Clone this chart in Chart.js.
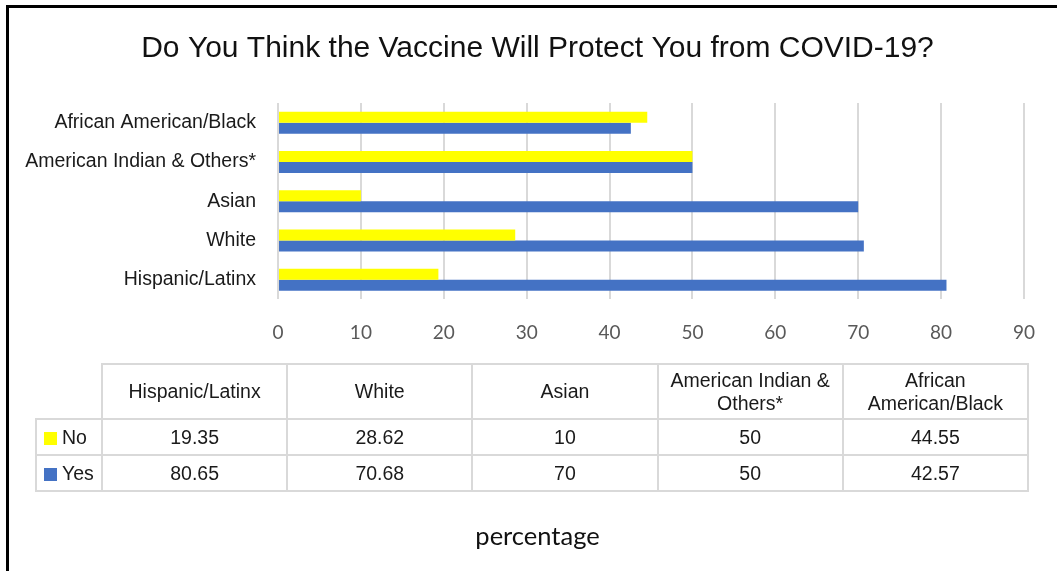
<!DOCTYPE html>
<html>
<head>
<meta charset="utf-8">
<script src="https://cdn.jsdelivr.net/npm/chart.js@4"></script>
<style>
  html, body { margin: 0; padding: 0; background: #fff; }
  #wrap { position: relative; width: 1057px; height: 571px; overflow: hidden; }
  #frame { position: absolute; left: 6px; top: 5px; right: -10px; bottom: -10px;
           border-left: 3px solid #000; border-top: 3px solid #000; pointer-events: none; }
  #chart { position: absolute; left: 0; top: 0; }
  #dataTable { position: absolute; left: 35px; top: 363px; width: 994px;
               border-collapse: collapse; table-layout: fixed;
               font-family: 'Liberation Sans', Arial, sans-serif; font-size: 19.5px; color: #1a1a1a; }
  #dataTable th, #dataTable td { border: 2px solid #d9d9d9; text-align: center; padding: 0;
               font-weight: normal; line-height: 1.15; }
  #dataTable thead tr { height: 55px; }
  #dataTable tbody tr { height: 36px; }
  #dataTable th.corner { border: none; }
  #dataTable td.key { text-align: left; padding-left: 7px; white-space: nowrap; }
  .swatch { display: inline-block; width: 13px; height: 13px; margin-right: 5px; vertical-align: -1px; }
</style>
</head>
<body>
<div id="wrap">
  <canvas id="chart" width="1057" height="571"></canvas>
  <table id="dataTable"></table>
  <div id="frame"></div>
</div>
<script>
// --- DATA ---
const groups = ['Hispanic/Latinx', 'White', 'Asian', 'American Indian & Others*', 'African American/Black'];
const noValues = [19.35, 28.62, 10, 50, 44.55];
const yesValues = [80.65, 70.68, 70, 50, 42.57];
const seriesNames = ['No', 'Yes'];
const seriesColors = ['#FFFF00', '#4472C4'];
const axisMin = 0, axisMax = 90, axisStep = 10;

const arialish = "'Liberation Sans', Arial, sans-serif";
const calibriish = "Lato, 'Open Sans', sans-serif";

// --- DATA TABLE UNDER THE CHART ---
function buildTable() {
    const table = document.getElementById('dataTable');
    let html = '<colgroup><col style="width:66px">';
    groups.forEach(() => { html += '<col>'; });
    html += '</colgroup><thead><tr><th class="corner"></th>';
    groups.forEach(g => { html += `<th>${g.replace('&', '&amp;')}</th>`; });
    html += '</tr></thead><tbody>';
    [noValues, yesValues].forEach((vals, i) => {
        html += `<tr><td class="key"><span class="swatch" style="background:${seriesColors[i]}"></span>${seriesNames[i]}</td>`;
        vals.forEach(v => { html += `<td>${v}</td>`; });
        html += '</tr>';
    });
    html += '</tbody>';
    table.innerHTML = html;
}
buildTable();

// --- CHART ---
const ctx = document.getElementById('chart').getContext('2d');
new Chart(ctx, {
    type: 'bar',
    data: {
        labels: groups,
        datasets: [
            { label: seriesNames[0], data: noValues, backgroundColor: seriesColors[0] },
            { label: seriesNames[1], data: yesValues, backgroundColor: seriesColors[1] }
        ]
    },
    options: {
        indexAxis: 'y',
        responsive: false,
        animation: false,
        layout: { padding: { left: 18, right: 0, top: 0, bottom: 0 } },
        datasets: { bar: { categoryPercentage: 0.56, barPercentage: 1, borderWidth: 0 } },
        scales: {
            x: {
                min: axisMin, max: axisMax,
                ticks: { stepSize: axisStep, padding: 22, color: '#595959',
                         font: { family: calibriish, size: 19 } },
                grid: { color: '#d9d9d9', lineWidth: 2, drawTicks: false, tickLength: 0 },
                border: { display: false },
                afterFit: s => { s.height = 212; }
            },
            y: {
                reverse: true,
                ticks: { padding: 22, color: '#1a1a1a',
                         font: { family: arialish, size: 19.5 } },
                grid: { display: false, drawTicks: false, tickLength: 0 },
                border: { display: false },
                afterFit: s => { s.width = 260; }
            },
            // empty strip on the right so the plot ends at 90 while the titles stay centred
            spacer: {
                type: 'linear', axis: 'y', position: 'right',
                ticks: { display: false },
                grid: { display: false, drawTicks: false },
                border: { display: false },
                afterFit: s => { s.width = 27; }
            }
        },
        plugins: {
            legend: { display: false },
            tooltip: { enabled: false },
            title: {
                display: true,
                text: 'Do You Think the Vaccine Will Protect You from COVID-19?',
                color: '#111',
                font: { family: arialish, size: 30, weight: 'normal' },
                padding: { top: 31, bottom: 36 }
            },
            subtitle: {
                display: true,
                position: 'bottom',
                text: 'percentage',
                color: '#111',
                font: { family: calibriish, size: 25.5, weight: 'normal' },
                padding: { top: 10, bottom: 19 }
            }
        }
    }
});
</script>
</body>
</html>
